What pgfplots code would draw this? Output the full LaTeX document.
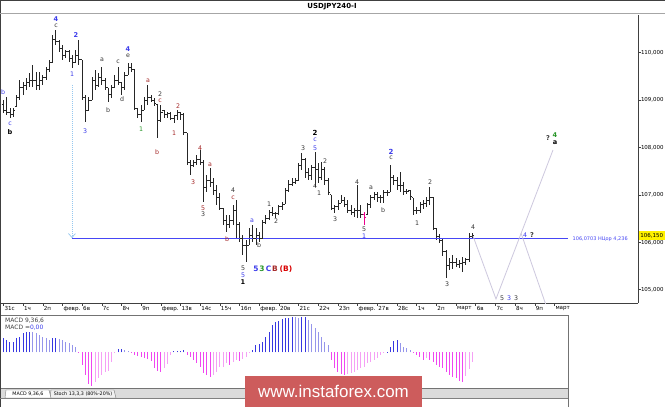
\documentclass[border=0pt]{standalone}
\usepackage{fontspec}
\setmainfont{DejaVu Sans}
\newfontfamily\wmfont{Liberation Sans}
\usepackage{pgfplots}
\usepackage{pgfplotstable}
\pgfplotsset{compat=1.18}
\usetikzlibrary{arrows.meta}

\definecolor{wblue}{RGB}{60,60,235}
\definecolor{wred}{RGB}{165,40,40}
\definecolor{wgreen}{RGB}{40,150,40}
\definecolor{wgrey}{RGB}{55,55,55}
\definecolor{fibo}{RGB}{70,70,245}
\definecolor{proj}{RGB}{205,200,222}
\definecolor{arrowc}{RGB}{150,200,240}
\definecolor{mBlue}{RGB}{55,55,225}
\definecolor{mBlueL}{RGB}{150,150,235}
\definecolor{mPink}{RGB}{240,70,240}
\definecolor{mPinkL}{RGB}{245,160,245}
\definecolor{wm}{RGB}{205,92,92}

\pgfdeclareplotmark{openL}{\pgfpathmoveto{\pgfqpoint{-1.7bp}{0bp}}\pgfpathlineto{\pgfqpoint{0bp}{0bp}}\pgfusepathqstroke}
\pgfdeclareplotmark{closeR}{\pgfpathmoveto{\pgfqpoint{0bp}{0bp}}\pgfpathlineto{\pgfqpoint{1.7bp}{0bp}}\pgfusepathqstroke}

% wave labels, placed in picture pixels (x from left, y from top)
\newcommand\wl[4]{\node[font=\fontsize{6.3}{7}\selectfont, text=#3, inner sep=0] at (#1,{407-#2}) {#4};}
\newcommand\wlb[4]{\node[font=\bfseries\fontsize{6.6}{7}\selectfont, text=#3, inner sep=0] at (#1,{407-#2}) {#4};}

% 4H bars: index, open, high, low, close
\pgfplotstableread{
i o h l c
0 108.90 109.00 108.73 108.79
1 108.79 109.07 108.69 108.75
2 108.75 108.83 108.62 108.69
3 108.69 108.83 108.64 108.79
4 108.86 109.11 108.86 109.05
5 109.05 109.42 109.00 109.26
6 109.26 109.38 109.11 109.32
7 109.32 109.47 109.21 109.38
8 109.38 109.57 109.28 109.42
9 109.42 109.74 109.28 109.42
10 109.42 109.59 109.21 109.32
11 109.32 109.59 109.21 109.42
12 109.42 109.53 109.32 109.47
13 109.47 109.70 109.42 109.64
14 109.64 109.85 109.59 109.80
15 109.80 110.37 109.80 110.27
16 110.27 110.48 110.16 110.23
17 110.23 110.27 110.02 110.10
18 110.10 110.16 109.85 109.95
19 109.95 110.06 109.89 110.02
20 110.02 110.06 109.80 109.89
21 109.89 109.95 109.68 109.80
22 109.80 110.06 109.78 109.95
23 109.95 110.27 109.74 109.85
24 109.85 109.85 109.00 109.05
25 109.05 109.11 108.54 108.79
26 108.79 109.07 108.79 109.00
27 109.00 109.49 109.00 109.42
28 109.42 109.64 109.21 109.32
29 109.32 109.57 109.28 109.47
30 109.47 109.70 109.32 109.42
31 109.42 109.47 109.21 109.26
32 109.26 109.26 108.96 109.11
33 109.11 109.32 109.05 109.26
34 109.26 109.53 109.26 109.42
35 109.42 109.70 109.32 109.38
36 109.38 109.38 109.11 109.26
37 109.26 109.59 109.21 109.53
38 109.53 109.78 109.53 109.68
39 109.68 109.78 109.59 109.64
40 109.64 109.64 108.79 108.83
41 108.83 108.83 108.62 108.69
42 108.69 108.90 108.54 108.79
43 108.79 109.07 108.79 109.00
44 109.00 109.32 108.90 109.05
45 109.05 109.11 108.96 109.00
46 109.00 109.05 108.88 108.92
47 108.90 108.90 108.20 108.58
48 108.58 108.90 108.54 108.75
49 108.79 108.79 108.62 108.69
50 108.69 108.75 108.62 108.71
51 108.71 108.75 108.58 108.62
52 108.62 108.69 108.52 108.67
53 108.67 108.79 108.58 108.73
54 108.73 108.75 108.58 108.69
55 108.69 108.73 108.26 108.31
56 108.31 108.31 107.63 107.69
57 107.69 107.74 107.42 107.63
58 107.63 107.74 107.59 107.69
59 107.69 107.84 107.63 107.74
60 107.74 107.95 107.63 107.69
61 107.69 107.74 106.85 107.15
62 107.15 107.42 107.06 107.31
63 107.31 107.57 107.17 107.27
64 107.27 107.36 107.00 107.10
65 107.10 107.21 106.79 106.94
66 106.94 107.04 106.68 106.72
67 106.72 106.72 106.37 106.47
68 106.47 106.58 106.22 106.37
69 106.37 106.58 106.30 106.47
70 106.47 106.79 106.37 106.68
71 106.68 106.89 106.09 106.37
72 106.37 106.43 106.01 106.09
73 106.09 106.15 105.73 105.94
74 105.94 106.05 105.58 105.94
75 105.94 106.30 105.94 106.15
76 106.15 106.37 106.01 106.09
77 106.09 106.30 105.94 106.15
78 106.15 106.22 106.01 106.09
79 106.09 106.47 106.09 106.43
80 106.43 106.58 106.39 106.51
81 106.51 106.68 106.47 106.64
82 106.64 106.75 106.56 106.60
83 106.60 106.64 106.51 106.62
84 106.62 106.79 106.58 106.75
85 106.75 106.85 106.68 106.81
86 106.81 107.15 106.81 107.10
87 107.10 107.31 107.06 107.23
88 107.23 107.36 107.19 107.27
89 107.27 107.36 107.23 107.31
90 107.31 107.67 107.31 107.63
91 107.63 107.88 107.53 107.74
92 107.74 107.78 107.36 107.48
93 107.48 107.57 107.31 107.42
94 107.42 107.63 107.31 107.57
95 107.57 107.91 107.17 107.53
96 107.53 107.67 107.25 107.36
97 107.36 107.69 107.31 107.53
98 107.53 107.59 107.21 107.31
99 107.31 107.36 107.00 107.06
100 107.00 107.00 106.68 106.72
101 106.72 106.79 106.62 106.75
102 106.75 106.89 106.68 106.83
103 106.83 107.00 106.83 106.89
104 106.89 106.96 106.75 106.81
105 106.81 106.89 106.62 106.68
106 106.68 106.79 106.58 106.64
107 106.64 106.72 106.53 106.68
108 106.68 107.21 106.51 106.68
109 106.68 106.79 106.51 106.58
110 106.58 106.64 106.37 106.53
111 106.58 106.83 106.58 106.79
112 106.79 107.00 106.72 106.94
113 106.94 107.06 106.89 107.00
114 107.00 107.06 106.85 106.94
115 106.94 107.00 106.83 106.94
116 106.94 107.10 106.83 107.06
117 107.06 107.10 106.98 107.06
118 107.06 107.63 107.06 107.36
119 107.36 107.42 107.21 107.31
120 107.31 107.38 107.10 107.21
121 107.21 107.48 107.06 107.21
122 107.21 107.27 107.00 107.08
123 107.08 107.13 107.02 107.08
124 107.10 107.10 106.89 106.96
125 106.94 106.94 106.58 106.68
126 106.68 106.75 106.60 106.68
127 106.68 106.85 106.62 106.79
128 106.79 106.89 106.70 106.83
129 106.83 106.96 106.75 106.89
130 106.89 107.17 106.79 106.94
131 106.94 106.96 106.26 106.30
132 106.30 106.30 106.05 106.13
133 106.13 106.18 105.99 106.05
134 106.05 106.09 105.71 105.80
135 105.80 105.84 105.25 105.52
136 105.52 105.67 105.42 105.58
137 105.58 105.73 105.44 105.58
138 105.58 105.67 105.48 105.54
139 105.54 105.63 105.46 105.56
140 105.56 105.69 105.37 105.58
141 105.58 105.67 105.52 105.63
142 105.63 106.20 105.58 106.13
143 106.13 106.20 106.09 106.15
}\bars

% MACD histogram: index, value, colour class (0 blue, 1 light blue, 2 magenta, 3 light pink)
\pgfplotstableread{
i v k
0 14 0
1 12.3 0
2 10.7 0
3 10.7 0
4 14 0
5 15.7 0
6 19 0
7 20 0
8 20.7 0
9 20 1
10 19 1
11 17.3 1
12 15.7 1
13 14 1
14 12.3 1
15 14 0
16 14 0
17 13.3 1
18 12.3 1
19 10.7 1
20 9 1
21 7.3 1
22 5.7 1
23 -1 2
24 -12.7 2
25 -22.7 2
26 -32 2
27 -33.3 2
28 -30 3
29 -26 3
30 -22.7 3
31 -19.3 3
32 -18.7 3
33 -9.3 3
34 -0.5 3
35 3.3 0
36 3.3 0
37 2.3 1
38 1.3 1
39 -1 2
40 -2.5 2
41 -4 2
42 -5 2
43 -6 2
44 -7 2
45 -9 2
46 -16 2
47 -19 2
48 -20 2
49 -16 3
50 -12 3
51 -3 3
52 1.3 0
53 1.3 0
54 1.3 0
55 2 0
56 -3 2
57 -4.3 2
58 -7.7 2
59 -11 2
60 -14.3 2
61 -21 2
62 -22.7 2
63 -24.3 2
64 -22.7 3
65 -19.3 3
66 -14.3 3
67 -14.3 3
68 -11 3
69 -12.7 2
70 -9.3 3
71 -7.7 3
72 -8.7 2
73 -6.7 3
74 -4.3 3
75 -1 3
76 2.3 0
77 7.3 0
78 8 0
79 10.7 0
80 15.7 0
81 20.7 0
82 27.3 0
83 30.7 0
84 31.3 0
85 33.3 0
86 34 0
87 34.7 0
88 35.3 0
89 35 1
90 34.7 1
91 35.3 0
92 35.7 0
93 32.3 1
94 28 1
95 24 1
96 20.7 1
97 15.7 1
98 10.7 1
99 7.3 1
100 -7.7 2
101 -15.3 2
102 -19.3 2
103 -22 2
104 -22.7 2
105 -22 3
106 -21 3
107 -20 3
108 -17.7 3
109 -16 3
110 -14.3 3
111 -11 3
112 -9.3 3
113 -7.7 3
114 -5.3 3
115 -2.7 3
116 -0.5 3
117 0.7 0
118 5.7 0
119 11.3 0
120 12.3 0
121 9 1
122 5.7 1
123 4 1
124 2.3 1
125 -0.5 2
126 -2.7 2
127 -4.3 2
128 -7.7 2
129 -6 3
130 -7.7 2
131 -9.3 2
132 -12.7 2
133 -14.3 2
134 -16 2
135 -19.3 2
136 -22.7 2
137 -24.3 2
138 -26 2
139 -28.7 2
140 -29.3 2
141 -24 3
142 -17 3
143 -10 3
}\macd

\begin{document}
\begin{tikzpicture}[x=1bp,y=1bp]
\useasboundingbox (0,0) rectangle (665,407);
\fill[white] (0,0) rectangle (665,407);

% price panel
\begin{axis}[at={(0bp,104bp)}, anchor=south west, scale only axis,
    width=638bp, height=288bp,
    xmin=-1.037, xmax=193.48, ymin=104.7194, ymax=110.7953,
    axis x line*=bottom, axis y line*=right,
    axis line style={black!75, line width=0.6bp},
    tick align=outside, major tick length=2.5bp,
    tick style={black!75, line width=0.5bp},
    xtick={0,6,...,168},
    xticklabels={31с,1ч,2п,февр.,6в,7с,8ч,9п,февр.,13в,14с,15ч,16п,февр.,20в,21с,22ч,23п,февр.,27в,28с,1ч,2п,март,6в,7с,8ч,9п,март},
    xticklabel style={anchor=north west, font=\fontsize{5.6}{6}\selectfont, inner sep=0.4bp, xshift=0.5bp},
    ytick={105,106,107,108,109,110},
    yticklabels={{105,000},{106,000},{107,000},{108,000},{109,000},{110,000}},
    yticklabel style={anchor=west, font=\fontsize{5.5}{6}\selectfont, inner sep=0.3bp},
    clip=true]

  \addplot[draw=none, mark=none, forget plot,
    error bars/.cd, y dir=both, y explicit, error mark=none,
    error bar style={draw=black!85, line width=0.9bp}]
    table[x=i, y=c, y error plus expr=\thisrow{h}-\thisrow{c}, y error minus expr=\thisrow{c}-\thisrow{l}] {\bars};
  \addplot[only marks, mark=openL, mark options={draw=black!85, line width=0.8bp}] table[x=i, y=o] {\bars};
  \addplot[only marks, mark=closeR, mark options={draw=black!85, line width=0.8bp}] table[x=i, y=c] {\bars};

  % highlighted bar
  \addplot[draw=none, mark=none,
    error bars/.cd, y dir=both, y explicit, error mark=none,
    error bar style={draw=magenta, line width=1bp}]
    coordinates {(110,106.505) +- (0,0.135)};
  \addplot[only marks, mark=openL, mark options={draw=magenta, line width=0.8bp}] coordinates {(110,106.58)};
  \addplot[only marks, mark=closeR, mark options={draw=magenta, line width=0.8bp}] coordinates {(110,106.53)};

  % target level and projections
  \addplot[fibo, line width=1bp] coordinates {(20.91,106.0703) (172.13,106.0703)};
  \addplot[arrowc, line width=0.7bp, dash pattern=on 1bp off 1bp,
    -{Straight Barb[length=4bp,width=7bp]}] coordinates {(20.91,109.32) (20.91,106.09)};
  \addplot[proj, line width=0.8bp] coordinates {(143.17,106.133) (150.18,104.804) (167.56,107.947)};
  \addplot[proj, line width=0.8bp] coordinates {(157.8,106.196) (165.55,104.65)};
\end{axis}

% MACD panel
\begin{axis}[at={(0bp,19bp)}, anchor=south west, scale only axis,
    width=568bp, height=73bp,
    xmin=-1.037, xmax=172.13, ymin=-35.7, ymax=37.3,
    xtick=\empty, ytick=\empty,
    axis line style={black!55, line width=0.6bp},
    clip=true]
  \addplot[ycomb, draw=mBlue, line width=1bp, restrict expr to domain={\thisrow{k}}{-0.5:0.5}] table[x=i, y=v] {\macd};
  \addplot[ycomb, draw=mBlueL, line width=1bp, restrict expr to domain={\thisrow{k}}{0.5:1.5}] table[x=i, y=v] {\macd};
  \addplot[ycomb, draw=mPink, line width=1bp, restrict expr to domain={\thisrow{k}}{1.5:2.5}] table[x=i, y=v] {\macd};
  \addplot[ycomb, draw=mPinkL, line width=1bp, restrict expr to domain={\thisrow{k}}{2.5:3.5}] table[x=i, y=v] {\macd};
\end{axis}

\node[anchor=west, font=\fontsize{6}{7}\selectfont, text=black!75, inner sep=0] at (5,{407-321}) {MACD 9,36,6};
\node[anchor=west, font=\fontsize{6}{7}\selectfont, text=black!75, inner sep=0] at (5,{407-328}) {MACD =\textcolor{wblue}{0,00}};

% frame, title, tabs
\draw[black!75, line width=0.8bp] (0.4,0) -- (0.4,407);
\draw[black!75, line width=0.8bp] (0,406.6) -- (665,406.6);
\draw[black!35, line width=1.3bp] (0,{407-13.8}) -- (665,{407-13.8});
\node[font=\bfseries\fontsize{7}{7}\selectfont, inner sep=0] at (332,{407-6.5}) {USDJPY240-I};

\fill[black!14] (0.8,{407-398}) rectangle (568,{407-389});
\draw[black!50, fill=black!6] (50,{407-398}) -- (51,{407-390}) -- (114,{407-390}) -- (116,{407-398}) -- cycle;
\draw[black!50, fill=white] (5,{407-398}) -- (6,{407-390}) -- (49,{407-390}) -- (51,{407-398}) -- cycle;
\node[font=\fontsize{4.8}{5}\selectfont, inner sep=0] at (28,{407-394}) {MACD 9,36,6};
\node[font=\fontsize{4.8}{5}\selectfont, inner sep=0] at (83,{407-394}) {Stoch 13,3,3 (80\%-20\%)};
\draw[black!50, line width=0.6bp] (0,{407-398.5}) -- (568,{407-398.5});
\draw[black!55, line width=0.6bp] (568,0) -- (568,19);

% price scale extras
\node[fill=yellow, text=black, font=\fontsize{5.5}{6}\selectfont, inner sep=0.4bp, anchor=west, minimum height=8.5bp, minimum width=26bp] at (638.5,{407-235.5}) {106,150};
\node[anchor=west, text=fibo, font=\fontsize{5}{5}\selectfont, inner sep=0] at (572.5,{407-239.5}) {106,0703 НЦор 4,236};

% wave labels
\wl{3}{92}{wblue}{b}
\wl{10}{124}{wblue}{c}
\wlb{10}{132}{black}{b}
\wlb{56}{19}{wblue}{4}
\wl{56}{26}{wgrey}{c}
\wlb{76}{35}{wblue}{2}
\wl{72}{74}{wblue}{1}
\wl{85}{131}{wblue}{3}
\wl{102}{60}{wgrey}{a}
\wl{108}{110}{wgrey}{b}
\wl{118}{62}{wgrey}{c}
\wl{122}{99}{wgrey}{d}
\wlb{128}{49}{wblue}{4}
\wl{128}{56}{wgrey}{e}
\wl{141}{129}{wgreen}{1}
\wl{148}{81}{wred}{a}
\wl{157}{152}{wred}{b}
\wl{160}{94}{wgrey}{2}
\wl{160}{101}{wred}{c}
\wl{174}{133}{wred}{1}
\wl{178}{106}{wred}{2}
\wl{193}{182}{wred}{3}
\wl{200}{148}{wred}{4}
\wl{203}{208}{wred}{5}
\wl{203}{214}{wgrey}{3}
\wl{210}{165}{wred}{a}
\wl{233}{190}{wgrey}{4}
\wl{233}{198}{wred}{c}
\wl{227}{239}{wred}{b}
\wl{243}{268}{wgrey}{5}
\wl{243}{275}{wblue}{5}
\wlb{243}{282}{black}{1}
\wl{252}{221}{wblue}{a}
\wl{259}{245}{wgrey}{b}
\node[font=\bfseries\fontsize{7.5}{8}\selectfont, text=wblue, inner sep=0] at (256,{407-269}) {5};
\node[font=\bfseries\fontsize{7.5}{8}\selectfont, text=wgreen, inner sep=0] at (262,{407-269}) {3};
\node[font=\bfseries\fontsize{7.5}{8}\selectfont, text=wblue, inner sep=0] at (268.5,{407-269}) {C};
\node[font=\bfseries\fontsize{7.5}{8}\selectfont, text=wred, inner sep=0] at (275,{407-269}) {B};
\node[font=\bfseries\fontsize{7.5}{8}\selectfont, text=red!85!black, inner sep=0] at (286,{407-269}) {(B)};
\wl{269}{204}{wgrey}{1}
\wl{276}{221}{wgrey}{2}
\wl{303}{148}{wgrey}{3}
\node[font=\bfseries\fontsize{7}{7}\selectfont, text=black, inner sep=0] at (315,{407-133}) {2};
\wl{315}{140}{wblue}{c}
\wl{315}{148}{wblue}{5}
\wl{315}{186}{wgrey}{4}
\wl{319}{193}{wgrey}{1}
\wl{325}{161}{wgrey}{2}
\wl{335}{219}{wgrey}{3}
\wl{357}{182}{wgrey}{4}
\wl{364}{229}{wgrey}{5}
\wl{364}{236}{wblue}{1}
\wl{371}{188}{wgrey}{a}
\wl{383}{210}{wgrey}{b}
\node[font=\bfseries\fontsize{7}{7}\selectfont, text=wblue, inner sep=0] at (391,{407-152}) {2};
\wl{391}{158}{wgrey}{c}
\wl{430}{182}{wgrey}{2}
\wl{417}{223}{wgrey}{1}
\wl{447}{284}{wgrey}{3}
\wl{473}{227}{wgrey}{4}
\wl{502}{298}{wgrey}{5}
\wl{509}{298}{wblue}{3}
\wl{516}{298}{wgrey}{3}
\wl{525}{235}{wblue}{4}
\wlb{532}{235}{wgrey}{?}
\wlb{548}{138}{wgrey}{?}
\wlb{555}{135}{wgreen}{4}
\wlb{555}{143}{black}{a}

% watermark
\fill[wm] (245,0) rectangle (422,{407-376});
\node[text=white, font=\wmfont\fontsize{17}{17}\selectfont, inner sep=0] at (333.5,{407-391}) {www.instaforex.com};
\end{tikzpicture}
\end{document}
